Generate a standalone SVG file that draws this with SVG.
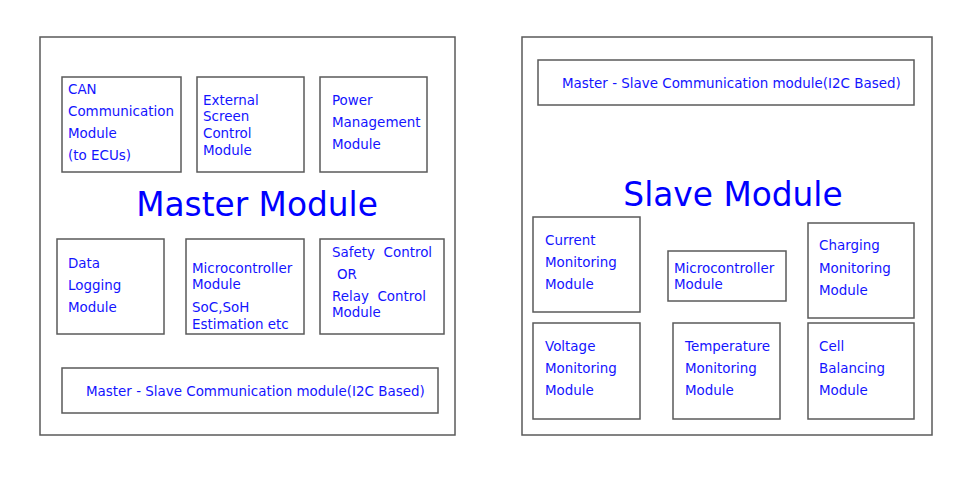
<svg xmlns="http://www.w3.org/2000/svg" width="966" height="478" viewBox="0 0 966 478">
<style>
rect{fill:none;stroke:#5a5a5a;stroke-width:1.5}
text{font-family:"DejaVu Sans",sans-serif;fill:#1414ff;font-size:13.45px;white-space:pre}
.big{font-size:32.8px;fill:#0000ff}
</style>
<rect x="0" y="0" width="966" height="478" style="fill:#fff;stroke:none"/>
<g id="master">
<rect x="40" y="37" width="415" height="398"/>
<text class="big" x="257" y="216" text-anchor="middle">Master Module</text>
</g>
<g id="can">
<rect x="62" y="77" width="119" height="95"/>
<text x="68" y="94">CAN</text><text x="68" y="116">Communication</text><text x="68" y="138">Module</text><text x="68" y="160">(to ECUs)</text>
</g>
<g id="screen">
<rect x="197" y="77" width="107" height="95"/>
<text x="203" y="105">External</text><text x="203" y="121">Screen</text><text x="203" y="138">Control</text><text x="203" y="155">Module</text>
</g>
<g id="power">
<rect x="320" y="77" width="107" height="95"/>
<text x="332" y="105">Power</text><text x="332" y="127">Management</text><text x="332" y="149">Module</text>
</g>
<g id="datalog">
<rect x="57" y="239" width="107" height="95"/>
<text x="68" y="268">Data</text><text x="68" y="290">Logging</text><text x="68" y="312">Module</text>
</g>
<g id="mmicro">
<rect x="186" y="239" width="118" height="95"/>
<text x="192" y="273">Microcontroller</text><text x="192" y="289">Module</text><text x="192" y="312">SoC,SoH</text><text x="192" y="329">Estimation etc</text>
</g>
<g id="safety">
<rect x="320" y="239" width="124" height="95"/>
<text x="332" y="257">Safety  Control</text><text x="337" y="279">OR</text><text x="332" y="301">Relay  Control</text><text x="332" y="317">Module</text>
</g>
<g id="mi2c">
<rect x="62" y="368" width="376" height="45"/>
<text x="86" y="396">Master - Slave Communication module(I2C Based)</text>
</g>
<g id="slave">
<rect x="522" y="37" width="410" height="398"/>
<text class="big" x="733" y="206" text-anchor="middle">Slave Module</text>
</g>
<g id="si2c">
<rect x="538" y="60" width="376" height="45"/>
<text x="562" y="88">Master - Slave Communication module(I2C Based)</text>
</g>
<g id="current">
<rect x="533" y="217" width="107" height="95"/>
<text x="545" y="245">Current</text><text x="545" y="267">Monitoring</text><text x="545" y="289">Module</text>
</g>
<g id="smicro">
<rect x="668" y="251" width="118" height="50"/>
<text x="674" y="273">Microcontroller</text><text x="674" y="289">Module</text>
</g>
<g id="charging">
<rect x="808" y="223" width="106" height="95"/>
<text x="819" y="250">Charging</text><text x="819" y="273">Monitoring</text><text x="819" y="295">Module</text>
</g>
<g id="voltage">
<rect x="533" y="323" width="107" height="96"/>
<text x="545" y="351">Voltage</text><text x="545" y="373">Monitoring</text><text x="545" y="395">Module</text>
</g>
<g id="temperature">
<rect x="673" y="323" width="107" height="96"/>
<text x="685" y="351">Temperature</text><text x="685" y="373">Monitoring</text><text x="685" y="395">Module</text>
</g>
<g id="cell">
<rect x="808" y="323" width="106" height="96"/>
<text x="819" y="351">Cell</text><text x="819" y="373">Balancing</text><text x="819" y="395">Module</text>
</g>
<g id="connectors"/>
</svg>
